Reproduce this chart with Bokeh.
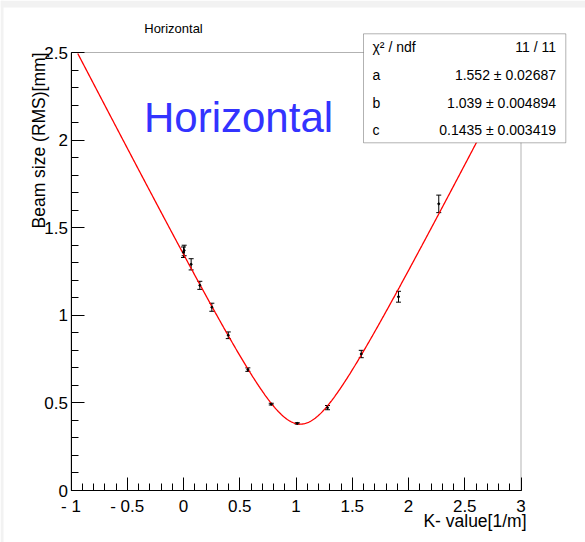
import numpy as np
from bokeh.plotting import figure
from bokeh.models import (ColumnDataSource, Range1d, FixedTicker, Whisker, TeeHead,
                          Label, BoxAnnotation, CustomJSTickFormatter, LinearAxis)
from bokeh.embed import file_html
from bokeh.resources import INLINE

# Measured beam size (RMS) versus quadrupole K value
k_values = [0.000, 0.006, 0.068, 0.145, 0.252, 0.398, 0.572, 0.780, 1.011, 1.280, 1.580, 1.911, 2.269]
beam_rms = [1.360, 1.370, 1.291, 1.171, 1.046, 0.886, 0.690, 0.493, 0.383, 0.473, 0.779, 1.106, 1.636]
beam_err = [0.030, 0.030, 0.032, 0.023, 0.023, 0.019, 0.010, 0.005, 0.004, 0.012, 0.021, 0.031, 0.050]

# Fit result: sigma(K) = sqrt(a (K - b)^2 + c)
fit_names = ["a", "b", "c"]
fit_values = [1.552, 1.039, 0.1435]
fit_errors = [0.02687, 0.004894, 0.003419]
fit_value_text = ["1.552", "1.039", "0.1435"]
fit_error_text = ["0.02687", "0.004894", "0.003419"]
chi2, ndf = 11, 11

x_major = [-1, -0.5, 0, 0.5, 1, 1.5, 2, 2.5, 3]
y_major = [0, 0.5, 1, 1.5, 2, 2.5]

FONT = "Liberation Sans"
W, H = 585, 542

# Pad frame: the data window [-1, 3] x [0, 2.5] sits inside a canvas-wide frame,
# so the labels and the statistics box around it are not clipped.
XMIN, XMAX, YMIN, YMAX = -1.0, 3.0, 0.0, 2.5
left_px, right_px, top_px, bottom_px = 70.5, 520.5, 52.0, 490.0
sx = (right_px - left_px) / (XMAX - XMIN)
sy = (bottom_px - top_px) / (YMAX - YMIN)
x_range = Range1d(XMIN - left_px / sx, XMAX + (W - right_px) / sx)
y_range = Range1d(YMIN - (H - bottom_px) / sy, YMAX + top_px / sy)

def px_x(px):
    return XMIN + (px - left_px) / sx

def px_y(py):
    return YMIN + (bottom_px - py) / sy

p = figure(width=W, height=H, output_backend="svg", toolbar_location=None,
           x_range=x_range, y_range=y_range, x_axis_type=None, y_axis_type=None,
           min_border=0)
p.background_fill_color = "white"
p.border_fill_color = "white"
p.outline_line_color = None
p.xgrid.visible = False
p.ygrid.visible = False

# Light margin strips of the canvas
p.add_layout(BoxAnnotation(right=px_x(3), fill_color="#f2f2f2", fill_alpha=1,
                           line_color=None, level="underlay"))
p.add_layout(BoxAnnotation(bottom=px_y(7), fill_color="#f2f2f2", fill_alpha=1,
                           line_color=None, level="underlay"))

# ROOT-style axes: ticks pointing into the frame
xaxis = LinearAxis(fixed_location=YMIN, bounds=(XMIN, XMAX))
yaxis = LinearAxis(fixed_location=XMIN, bounds=(YMIN, YMAX))
p.add_layout(xaxis, "below")
p.add_layout(yaxis, "left")
for ax in (xaxis, yaxis):
    ax.axis_line_color = "black"
    ax.major_tick_line_color = "black"
    ax.minor_tick_line_color = "black"
    ax.major_tick_in = 13
    ax.major_tick_out = 0
    ax.minor_tick_in = 7
    ax.minor_tick_out = 0
    ax.major_label_text_font = FONT
    ax.major_label_text_font_size = "17px"
    ax.major_label_text_color = "black"

xaxis.ticker = FixedTicker(ticks=x_major,
                           minor_ticks=[round(v, 1) for v in np.arange(-1, 3.01, 0.1)])
yaxis.ticker = FixedTicker(ticks=y_major,
                           minor_ticks=[round(v, 1) for v in np.arange(0, 2.51, 0.1)])
xaxis.formatter = CustomJSTickFormatter(
    code="return tick < 0 ? '- ' + (-tick) : String(tick);")
xaxis.major_label_standoff = 6
yaxis.major_label_standoff = 3

# Frame border
p.add_layout(BoxAnnotation(left=XMIN, right=XMAX, bottom=YMIN, top=YMAX,
                           fill_color=None, line_color="black", line_width=1,
                           level="underlay"))

# Fitted curve
a, b, c = fit_values
kx = np.linspace(XMIN, XMAX, 600)
ky = np.sqrt(a * (kx - b) ** 2 + c)
keep = ky <= YMAX
p.line(kx[keep], ky[keep], line_color="red", line_width=1.3)

# Data points with error bars
src = ColumnDataSource(dict(
    x=k_values, y=beam_rms,
    lo=[v - e for v, e in zip(beam_rms, beam_err)],
    hi=[v + e for v, e in zip(beam_rms, beam_err)],
))
p.add_layout(Whisker(source=src, base="x", lower="lo", upper="hi", dimension="height",
                     line_color="black", line_width=1,
                     lower_head=TeeHead(size=5, line_color="black", line_width=1),
                     upper_head=TeeHead(size=5, line_color="black", line_width=1)))
p.scatter("x", "y", source=src, size=2, color="black")

# Titles and axis labels
p.add_layout(Label(x=px_x(173), y=px_y(27.5), text="Horizontal", text_font=FONT,
                   text_font_size="13px", text_align="center", text_baseline="middle",
                   text_color="black"))
p.add_layout(Label(x=px_x(143.5), y=px_y(117.3), text="Horizontal", text_font=FONT,
                   text_font_size="42px", text_align="left", text_baseline="alphabetic",
                   text_color="#3333ff"))
p.add_layout(Label(x=px_x(526), y=px_y(520), text="K- value[1/m]", text_font=FONT,
                   text_font_size="17.5px", text_align="right", text_baseline="middle",
                   text_color="black"))
p.add_layout(Label(x=px_x(38.5), y=YMAX, text="Beam size (RMS)[mm]", text_font=FONT,
                   text_font_size="17.5px", text_align="right", text_baseline="middle",
                   angle=np.pi / 2, text_color="black"))

# Fit statistics box
p.add_layout(BoxAnnotation(left=px_x(363), right=px_x(565.3),
                           bottom=px_y(142.3), top=px_y(33.3),
                           fill_color="white", fill_alpha=1.0,
                           line_color="black", line_width=1, level="overlay"))
rows_left = ["\u03c7\u00b2 / ndf"] + fit_names
rows_right = [f"{chi2} / {ndf}"] + [f"{v} \u00b1 {e}" for v, e in zip(fit_value_text, fit_error_text)]
row_py = [46, 74, 102, 129.5]
for ry, lt, rt in zip(row_py, rows_left, rows_right):
    p.add_layout(Label(x=px_x(372), y=px_y(ry), text=lt, text_font=FONT, text_font_size="14px",
                       text_align="left", text_baseline="middle", text_color="black",
                       level="overlay"))
    p.add_layout(Label(x=px_x(555.5), y=px_y(ry), text=rt, text_font=FONT, text_font_size="14px",
                       text_align="right", text_baseline="middle", text_color="black",
                       level="overlay"))

open("out.html", "w").write(file_html(p, INLINE))
